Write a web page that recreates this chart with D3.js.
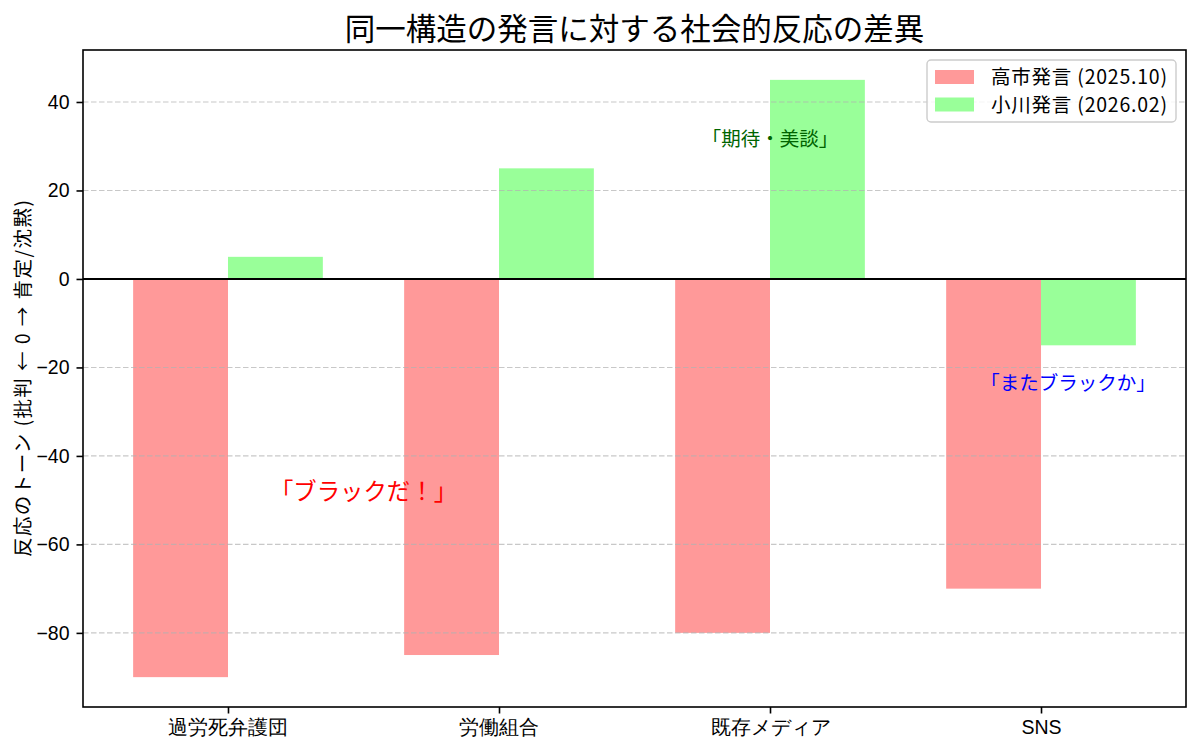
<!DOCTYPE html>
<html>
<head>
<meta charset="utf-8">
<script src="https://cdn.jsdelivr.net/npm/d3@7"></script>
<style>
  body { margin: 0; background: #fff; }
  svg { display: block; font-family: "Noto Sans CJK JP", "Noto Sans", sans-serif; }
</style>
</head>
<body>
<svg id="chart" width="1200" height="754"></svg>
<script>
// data
const categories = ['過労死弁護団', '労働組合', '既存メディア', 'SNS'];
const takaichi = [-90, -85, -80, -70];
const ogawa = [5, 25, 45, -15];
const seriesNames = ['高市発言 (2025.10)', '小川発言 (2026.02)'];
const yTicks = [-80, -60, -40, -20, 0, 20, 40];
const notes = [
  { text: '「ブラックだ！」', x: 0.5, y: -50, color: 'red', size: 23.4 },
  { text: '「期待・美談」', x: 2, y: 30, color: 'darkgreen', size: 19.5 },
  { text: '「またブラックか」', x: 3.1, y: -25, color: 'blue', size: 19.5 }
];

const W = 1200, H = 754;
const margin = { top: 50, right: 14, bottom: 47, left: 83 };
const barW = 0.35;
const colors = ['#ff9999', '#99ff99'];

const svg = d3.select('#chart');

let x = d3.scaleLinear().domain([-0.535, 3.535]).range([margin.left, W - margin.right]);
let y = d3.scaleLinear().domain([-96.75, 51.75]).range([H - margin.bottom, margin.top]);

// bars
const series = [takaichi, ogawa];
series.forEach((vals, s) => {
  svg.append('g')
    .selectAll('rect')
    .data(vals)
    .join('rect')
    .attr('x', (d, i) => x(i - barW + s * barW))
    .attr('width', x(barW) - x(0))
    .attr('y', (d) => y(Math.max(0, d)))
    .attr('height', (d) => Math.abs(y(d) - y(0)))
    .attr('fill', colors[s]);
});

// grid (drawn above bars like matplotlib)
svg.append('g')
  .selectAll('line')
  .data(yTicks)
  .join('line')
  .attr('x1', margin.left).attr('x2', W - margin.right)
  .attr('y1', (d) => y(d)).attr('y2', (d) => y(d))
  .attr('stroke', '#b0b0b0')
  .attr('stroke-opacity', 0.7)
  .attr('stroke-width', 1.1)
  .attr('stroke-dasharray', '5.5,2.5');

// zero line
svg.append('line')
  .attr('x1', margin.left).attr('x2', W - margin.right)
  .attr('y1', y(0)).attr('y2', y(0))
  .attr('stroke', '#000').attr('stroke-width', 1.9);

// annotations
svg.append('g')
  .selectAll('text')
  .data(notes)
  .join('text')
  .attr('x', (d) => x(d.x))
  .attr('y', (d) => y(d.y))
  .attr('text-anchor', 'middle')
  .attr('fill', (d) => d.color)
  .attr('font-size', (d) => d.size)
  .text((d) => d.text);

// axes
const yAxis = d3.axisLeft(y)
  .tickValues(yTicks)
  .tickSize(6.5)
  .tickPadding(7)
  .tickFormat((d) => d < 0 ? '\u2212' + Math.abs(d) : String(d));
const gy = svg.append('g')
  .attr('transform', `translate(${margin.left},0)`)
  .call(yAxis);
gy.select('.domain').remove();
gy.selectAll('line').attr('stroke-width', 1.6);
gy.selectAll('text').attr('font-size', 19.5).attr('fill', '#000');

const xAxis = d3.axisBottom(x)
  .tickValues(d3.range(categories.length))
  .tickSize(6.5)
  .tickPadding(7)
  .tickFormat((d) => categories[d]);
const gx = svg.append('g')
  .attr('transform', `translate(0,${H - margin.bottom})`)
  .call(xAxis);
gx.select('.domain').remove();
gx.selectAll('line').attr('stroke-width', 1.6);
gx.selectAll('text').attr('font-size', 19.5).attr('fill', '#000');

// frame
svg.append('rect')
  .attr('x', margin.left).attr('y', margin.top)
  .attr('width', W - margin.left - margin.right)
  .attr('height', H - margin.top - margin.bottom)
  .attr('fill', 'none').attr('stroke', '#000').attr('stroke-width', 1.6);

// title
svg.append('text')
  .attr('x', (margin.left + W - margin.right) / 2)
  .attr('y', 40)
  .attr('text-anchor', 'middle')
  .attr('font-size', 30.5)
  .attr('fill', '#000')
  .text('同一構造の発言に対する社会的反応の差異');

// y label (stretched to the monospaced width of the original font)
svg.append('text')
  .attr('transform', `translate(30,${(margin.top + H - margin.bottom) / 2}) rotate(-90)`)
  .attr('text-anchor', 'middle')
  .attr('font-size', 19.5)
  .attr('fill', '#000')
  .attr('textLength', 357)
  .attr('lengthAdjust', 'spacing')
  .text('反応のトーン (批判 ← 0 → 肯定/沈黙)');

// legend
const legend = svg.append('g');
const lgBox = legend.append('rect')
  .attr('fill', '#fff').attr('fill-opacity', 0.8)
  .attr('stroke', '#cccccc').attr('stroke-width', 1.4)
  .attr('rx', 4);
const rows = legend.selectAll('g.row')
  .data(seriesNames)
  .join('g')
  .attr('class', 'row')
  .attr('transform', (d, i) => `translate(0,${i * 27.5})`);
rows.append('rect')
  .attr('x', 8).attr('y', 10)
  .attr('width', 39).attr('height', 14)
  .attr('fill', (d, i) => colors[i]);
rows.append('text')
  .attr('x', 64).attr('y', 24)
  .attr('font-size', 19.5)
  .attr('fill', '#000')
  .attr('textLength', 176)
  .attr('lengthAdjust', 'spacing')
  .text((d) => d);
let boxW = 64 + 176 + 9;
lgBox.attr('width', boxW).attr('height', 62);
legend.attr('transform', `translate(${W - margin.right - 10 - boxW},${margin.top + 10})`);
</script>
</body>
</html>
